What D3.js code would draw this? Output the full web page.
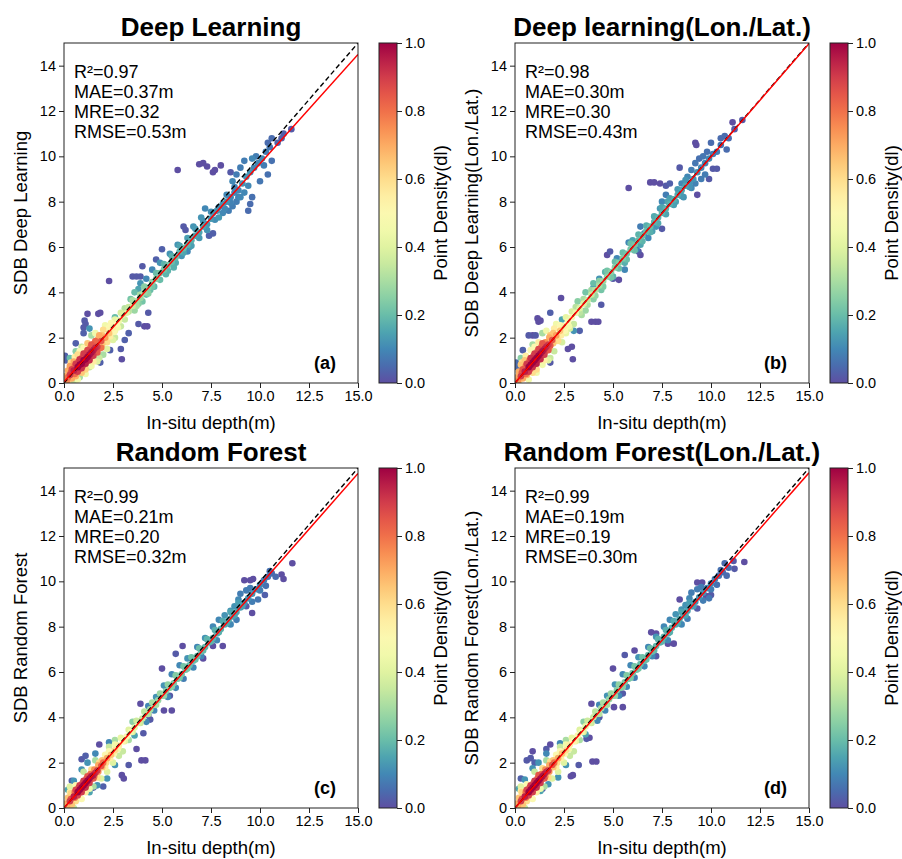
<!DOCTYPE html>
<html>
<head>
<meta charset="utf-8">
<script src="https://cdn.jsdelivr.net/npm/d3@7"></script>
<style>
    body { margin: 0; background: #fff; }
    svg text { font-family: "Liberation Sans", Arial, sans-serif; fill: #000; }
</style>
</head>
<body>
<div id="chart"></div>
<script>
// ---- data ----
const xTicks = [0, 2.5, 5, 7.5, 10, 12.5, 15];
const yTicks = [0, 2, 4, 6, 8, 10, 12, 14];
const cbarTicks = [0, 0.2, 0.4, 0.6, 0.8, 1.0];

const titles = ["Deep Learning", "Deep learning(Lon./Lat.)", "Random Forest", "Random Forest(Lon./Lat.)"];
const yLabels = ["SDB Deep Learning", "SDB Deep Learning(Lon./Lat.)", "SDB Random Forest", "SDB Random Forest(Lon./Lat.)"];
const xLabel = "In-situ depth(m)";
const cbarLabel = "Point Density(dl)";
const panelLetters = ["(a)", "(b)", "(c)", "(d)"];

const statsA = ["R²=0.97", "MAE=0.37m", "MRE=0.32", "RMSE=0.53m"];
const statsB = ["R²=0.98", "MAE=0.30m", "MRE=0.30", "RMSE=0.43m"];
const statsC = ["R²=0.99", "MAE=0.21m", "MRE=0.20", "RMSE=0.32m"];
const statsD = ["R²=0.99", "MAE=0.19m", "MRE=0.19", "RMSE=0.30m"];

// red fitted line: SDB = slope * depth + intercept
const fitSlopes = [0.963, 0.998, 0.984, 0.986];
const fitIntercepts = [0.05, 0.0, 0.0, 0.0];

// points: [in-situ depth, SDB, point density]
const pointsA = [
    [0.3,0.35,0.9],[0.5,0.55,0.95],[0.7,0.7,1.0],[0.9,0.85,1.0],[1.1,1.05,1.0],[1.3,1.25,0.98],[1.5,1.45,0.95],[1.7,1.6,0.9],[1.9,1.85,0.85],
    [0.6,0.85,0.9],[0.8,1.05,0.92],[1.0,1.3,0.9],[1.2,1.45,0.88],[1.4,1.7,0.85],[1.6,1.85,0.82],
    [0.7,0.5,0.9],[0.9,0.65,0.92],[1.1,0.85,0.95],[1.3,1.0,0.93],[1.5,1.2,0.9],[1.7,1.35,0.85],[1.9,1.55,0.8],
    [0.4,0.6,0.88],[0.2,0.25,0.8],[1.0,1.0,1.0],[1.2,1.15,1.0],[0.8,0.8,1.0],[1.4,1.35,0.97],[1.6,1.55,0.93],
    [0.1,0.3,0.7],[0.2,0.55,0.7],[0.3,0.75,0.72],[0.5,0.95,0.7],[0.4,0.2,0.7],[0.6,0.3,0.68],[0.9,0.45,0.65],[2.1,2.0,0.72],
    [2.3,2.2,0.65],[2.2,1.8,0.6],[2.0,2.35,0.6],[1.8,2.1,0.7],[1.2,1.75,0.65],[2.5,2.45,0.55],[2.4,2.65,0.5],[2.7,2.6,0.5],
    [1.1,0.6,0.62],[1.5,0.95,0.55],[0.15,0.1,0.75],[0.7,1.25,0.6],
    [2.8,2.75,0.45],[3.0,3.0,0.4],[3.2,3.1,0.4],[3.3,3.35,0.35],[3.5,3.4,0.35],[2.6,2.3,0.45],[2.9,2.5,0.35],[3.1,2.8,0.35],
    [2.2,1.5,0.4],[2.5,1.9,0.4],[2.6,2.0,0.35],[1.8,1.1,0.35],[2.0,1.25,0.3],[1.3,0.7,0.35],[0.5,0.1,0.35],[0.8,0.25,0.3],
    [3.7,3.6,0.3],[3.9,3.9,0.3],[4.1,4.0,0.28],[4.3,4.2,0.25],[4.5,4.45,0.25],[4.7,4.6,0.25],[4.9,4.85,0.22],[5.1,5.0,0.22],
    [5.3,5.2,0.22],[5.5,5.35,0.2],[5.7,5.55,0.2],[5.9,5.8,0.18],[6.1,5.95,0.2],[6.3,6.1,0.18],[6.5,6.3,0.17],[6.7,6.5,0.15],
    [6.9,6.65,0.15],[7.1,6.9,0.15],[7.3,7.0,0.13],[7.5,7.25,0.13],[3.6,3.2,0.28],[3.8,3.5,0.25],[4.0,3.6,0.22],[4.2,3.9,0.2],
    [4.4,4.1,0.2],[4.6,4.25,0.18],[5.2,4.8,0.18],[5.6,5.1,0.17],[3.4,3.7,0.22],[3.6,4.0,0.2],[3.8,4.15,0.15],
    [3.9,4.4,0.12],[4.2,4.6,0.1],[4.5,5.0,0.1],[4.9,5.3,0.12],[5.4,5.7,0.12],[5.8,6.1,0.12],[6.0,5.6,0.12],[6.3,5.8,0.1],
    [6.6,6.9,0.12],[6.4,6.0,0.12],[1.4,2.1,0.3],[0.9,1.6,0.35],[0.3,1.1,0.2],[0.6,1.4,0.25],[1.3,2.4,0.12],[2.6,2.9,0.2],
    [7.0,7.3,0.12],[7.2,7.7,0.1],[7.6,7.5,0.12],[7.8,7.6,0.12],[7.9,7.3,0.13],[8.1,7.9,0.12],[8.3,8.0,0.12],[8.5,8.2,0.1],
    [8.7,8.4,0.1],[8.9,8.5,0.1],[8.2,7.7,0.1],[8.4,7.6,0.08],[8.6,7.8,0.08],[8.8,8.0,0.08],[9.0,8.2,0.1],[9.2,8.4,0.1],
    [9.4,8.7,0.1],[9.1,8.8,0.12],[9.3,9.1,0.12],[9.5,9.3,0.12],[9.7,9.5,0.1],[9.9,9.7,0.1],[10.1,9.9,0.1],[9.6,9.9,0.1],
    [9.8,10.0,0.08],[9.2,9.8,0.08],[9.0,9.5,0.08],[8.8,9.2,0.08],[8.6,8.9,0.1],[10.3,10.2,0.08],[10.5,10.4,0.07],[10.2,9.6,0.08],
    [10.4,9.2,0.06],[10.0,8.9,0.07],[9.6,8.2,0.06],[9.5,7.9,0.05],[10.4,10.6,0.05],[10.6,10.8,0.05],[10.9,10.6,0.04],
    [11.2,11.0,0.03],[11.1,10.8,0.03],[11.6,11.2,0.02],[9.4,7.6,0.05],[10.6,9.8,0.06],
    [5.8,9.4,0.0],[6.9,9.65,0.0],[7.1,9.7,0.0],[7.3,9.55,0.0],[7.6,9.3,0.0],[7.7,9.4,0.0],[8.0,9.6,0.0],[8.5,9.3,0.02],
    [2.3,4.5,0.0],[3.5,4.7,0.02],[3.7,4.7,0.02],[3.9,4.7,0.02],[4.0,5.15,0.02],[4.7,5.45,0.03],[5.0,5.9,0.03],[6.1,6.9,0.02],
    [6.2,6.75,0.02],[7.4,6.5,0.03],[7.6,6.6,0.03],[1.05,2.75,0.02],[1.1,2.6,0.02],[1.0,2.45,0.02],[1.2,3.05,0.0],[1.75,3.05,0.0],
    [1.85,3.1,0.0],[1.0,2.2,0.03],[0.6,1.75,0.03],[4.3,3.1,0.02],[4.1,2.5,0.0],[4.25,2.5,0.0],[3.8,2.6,0.02],[2.95,1.05,0.0],
    [2.9,1.5,0.02],[2.35,1.45,0.03],[1.85,0.9,0.03],[3.3,2.2,0.03],[3.1,1.9,0.03],[0.05,1.2,0.03],[0.1,1.0,0.03]
];
const bandA = [
    [0.2,0.05,0.6],[0.35,0.45,0.85],[0.55,0.75,0.8],[0.75,0.95,0.85],[0.95,1.15,0.85],[1.15,1.35,0.8],[1.35,1.55,0.8],
    [1.55,1.75,0.75],[1.75,1.95,0.7],[1.95,2.1,0.65],[0.55,0.4,0.8],[0.75,0.6,0.85],[0.95,0.75,0.85],[1.15,0.95,0.85],
    [1.35,1.15,0.8],[1.55,1.35,0.75],[1.75,1.5,0.72],[1.95,1.7,0.65],[2.15,1.9,0.6],[2.35,2.05,0.55],[2.55,2.25,0.5],
    [2.75,2.45,0.45],[2.1,2.55,0.45],[2.3,2.45,0.5],[2.6,2.8,0.42],[2.9,3.1,0.38],[0.35,0.9,0.6],[0.55,1.15,0.55],
    [0.8,1.4,0.5],[1.0,1.55,0.5],[1.6,2.2,0.45],[1.1,0.4,0.45],[1.4,0.75,0.45],[1.7,0.95,0.4],[0.7,0.15,0.45],
    [3.1,3.3,0.32],[3.3,3.15,0.33],[3.5,3.65,0.3],[3.7,3.4,0.3],[3.9,3.75,0.28],[4.1,4.25,0.25],[4.3,3.95,0.25],
    [4.5,4.25,0.22],[4.7,4.85,0.2],[4.9,4.55,0.2],[5.1,5.25,0.18],[5.3,4.95,0.18],[5.5,5.6,0.17],[5.7,5.3,0.16],
    [5.9,6.05,0.15],[6.1,5.75,0.15],[6.3,6.4,0.14],[6.5,6.05,0.14],[6.7,6.8,0.13],[6.9,6.4,0.13],[7.1,7.15,0.12],
    [7.3,6.75,0.12],[7.5,7.55,0.11],[7.7,7.2,0.11],[7.9,7.75,0.1],[8.1,7.5,0.1],[8.3,8.3,0.1],[8.5,7.95,0.09],
    [8.7,8.65,0.09],[8.9,8.2,0.09]
];

const pointsB = [
    [0.3,0.3,0.9],[0.5,0.5,0.95],[0.7,0.7,1.0],[0.9,0.9,1.0],[1.1,1.1,1.0],[1.3,1.3,0.98],[1.5,1.5,0.95],[1.7,1.7,0.9],[1.9,1.9,0.85],
    [0.6,0.85,0.9],[0.8,1.1,0.92],[1.0,1.3,0.9],[1.2,1.5,0.88],[1.4,1.75,0.85],[0.7,0.5,0.9],[0.9,0.7,0.92],[1.1,0.85,0.95],
    [1.3,1.05,0.93],[1.5,1.25,0.9],[1.7,1.45,0.85],[1.0,1.0,1.0],[1.2,1.2,1.0],[0.8,0.8,1.0],[1.4,1.4,0.97],[1.6,1.6,0.93],
    [0.4,0.6,0.85],[1.8,1.65,0.85],
    [0.1,0.25,0.7],[0.2,0.5,0.7],[0.3,0.8,0.65],[0.5,1.0,0.65],[0.4,0.2,0.7],[0.6,0.35,0.68],[0.9,0.45,0.6],[2.1,2.1,0.72],
    [2.3,2.3,0.65],[2.2,1.85,0.6],[2.0,2.4,0.55],[1.8,2.1,0.65],[1.2,1.8,0.55],[2.5,2.5,0.55],[2.7,2.7,0.5],[1.1,0.6,0.6],
    [1.5,1.0,0.55],[0.15,0.1,0.75],[2.9,2.9,0.48],[3.1,3.1,0.45],
    [3.3,3.3,0.4],[3.5,3.5,0.4],[3.7,3.65,0.35],[3.9,3.9,0.35],[4.1,4.1,0.32],[4.3,4.3,0.3],[4.5,4.5,0.28],[4.7,4.7,0.26],
    [4.9,4.9,0.25],[5.1,5.1,0.25],[5.3,5.3,0.24],[5.5,5.5,0.24],[5.7,5.7,0.22],[5.9,5.9,0.22],[6.1,6.1,0.22],[6.3,6.3,0.2],
    [6.5,6.5,0.2],[6.7,6.7,0.2],[6.9,6.9,0.2],[7.1,7.1,0.18],[7.3,7.3,0.18],[7.5,7.5,0.18],[7.7,7.7,0.18],[7.9,7.9,0.17],
    [8.1,8.1,0.17],[8.3,8.3,0.16],[8.5,8.5,0.15],[8.7,8.7,0.15],[2.6,2.2,0.42],[2.8,2.4,0.38],[3.0,2.6,0.35],[2.4,1.8,0.38],
    [2.0,1.4,0.35],[1.8,1.1,0.35],[3.4,3.0,0.3],[3.6,3.2,0.28],[4.0,3.7,0.25],[4.4,4.1,0.22],[3.2,3.6,0.25],[3.6,4.0,0.22],
    [4.0,4.4,0.2],[4.6,4.9,0.18],[5.0,4.7,0.18],[5.6,5.3,0.17],[6.0,6.3,0.15],[6.4,6.1,0.15],[7.0,6.7,0.14],[7.4,7.7,0.13],
    [7.8,8.0,0.15],[8.2,8.0,0.14],[1.4,2.2,0.3],[0.9,1.7,0.3],[0.3,1.1,0.25],[2.4,2.8,0.15],[2.6,2.5,0.25],[3.0,2.3,0.12],
    [8.9,8.8,0.12],[9.1,9.0,0.12],[9.3,9.3,0.12],[9.5,9.5,0.1],[9.7,9.7,0.1],[9.9,9.9,0.1],[10.1,10.1,0.08],[10.3,10.2,0.08],
    [8.8,9.1,0.1],[9.0,9.4,0.08],[9.2,9.7,0.07],[9.4,9.9,0.06],[9.6,10.0,0.07],[9.8,10.2,0.06],[9.0,8.6,0.1],[9.2,8.8,0.09],
    [9.5,9.0,0.08],[9.7,9.2,0.08],[8.6,8.2,0.12],[8.5,8.8,0.1],[10.5,10.8,0.05],[10.7,10.9,0.05],[10.9,10.8,0.05],[10.5,10.5,0.06],
    [10.0,10.6,0.05],[10.8,10.3,0.05],[4.3,4.6,0.12],[4.0,4.2,0.12],[5.2,5.5,0.1],[5.8,6.2,0.1],[6.4,6.9,0.08],[6.6,6.6,0.1],
    [7.5,8.0,0.1],[7.7,8.3,0.08],[5.6,5.0,0.1],[6.2,5.9,0.1],[6.8,6.4,0.1],[7.2,6.9,0.12],
    [5.8,8.6,0.0],[6.9,8.85,0.0],[7.1,8.85,0.0],[7.4,8.8,0.0],[7.7,8.7,0.02],[7.9,8.8,0.03],[8.4,9.5,0.02],[9.2,10.6,0.0],
    [9.25,10.5,0.0],[9.3,8.3,0.0],[9.9,9.0,0.02],[10.1,9.45,0.02],[10.3,9.45,0.02],[11.1,11.5,0.0],[11.2,11.2,0.02],[11.6,11.6,0.02],
    [4.7,5.65,0.0],[4.85,5.8,0.02],[6.4,5.65,0.0],[6.3,5.8,0.02],[5.0,4.6,0.02],[5.3,4.55,0.0],[7.5,6.8,0.02],[2.35,3.75,0.0],
    [1.15,2.85,0.0],[1.2,2.7,0.0],[1.3,2.75,0.0],[1.8,3.1,0.03],[0.7,2.1,0.02],[0.9,2.1,0.0],[1.05,2.1,0.02],[0.4,1.45,0.03],
    [3.9,2.7,0.0],[4.1,2.7,0.0],[4.25,2.7,0.0],[4.4,3.45,0.02],[2.95,1.05,0.0],[2.7,1.5,0.0],[2.9,1.6,0.0],[1.8,0.9,0.02],
    [3.3,2.3,0.03],[0.05,0.9,0.05],[0.1,0.7,0.05]
];
const bandB = [
    [0.2,0.05,0.6],[0.35,0.45,0.85],[0.55,0.75,0.8],[0.75,1.0,0.85],[0.95,1.2,0.85],[1.15,1.4,0.8],[1.35,1.6,0.8],
    [1.55,1.8,0.75],[1.75,2.0,0.7],[1.95,2.2,0.65],[0.55,0.4,0.8],[0.75,0.6,0.85],[0.95,0.8,0.85],[1.15,1.0,0.85],
    [1.35,1.2,0.8],[1.55,1.4,0.75],[1.75,1.55,0.72],[1.95,1.75,0.65],[2.15,1.95,0.6],[2.35,2.1,0.55],[2.55,2.3,0.5],
    [2.75,2.5,0.45],[2.1,2.6,0.45],[2.3,2.55,0.5],[2.6,2.9,0.42],[2.9,3.15,0.38],[0.35,0.9,0.6],[0.55,1.2,0.55],
    [0.8,1.45,0.5],[1.0,1.6,0.5],[1.6,2.3,0.45],[1.1,0.45,0.45],[1.4,0.8,0.45],[1.7,1.0,0.4],[0.7,0.15,0.45],
    [3.1,3.35,0.32],[3.3,3.1,0.33],[3.5,3.7,0.3],[3.7,3.45,0.3],[3.9,4.1,0.28],[4.1,3.85,0.27],[4.3,4.5,0.25],
    [4.5,4.25,0.24],[4.7,4.95,0.22],[4.9,4.65,0.22],[5.1,5.35,0.2],[5.3,5.05,0.2],[5.5,5.75,0.2],[5.7,5.45,0.2],
    [5.9,6.15,0.2],[6.1,5.85,0.2],[6.3,6.55,0.18],[6.5,6.25,0.18],[6.7,6.95,0.17],[6.9,6.65,0.17],[7.1,7.35,0.16],
    [7.3,7.05,0.16],[7.5,7.75,0.15],[7.7,7.45,0.15],[7.9,8.15,0.14],[8.1,7.85,0.14],[8.3,8.55,0.13],[8.5,8.25,0.13],
    [8.7,8.95,0.12],[8.9,8.65,0.12]
];

const pointsC = [
    [0.3,0.3,0.9],[0.5,0.5,0.95],[0.7,0.7,1.0],[0.9,0.9,1.0],[1.1,1.1,1.0],[1.3,1.3,0.98],[1.5,1.45,0.95],[1.7,1.65,0.9],
    [1.9,1.85,0.85],[0.6,0.8,0.88],[0.8,1.0,0.9],[1.0,1.2,0.9],[1.2,1.4,0.85],[0.7,0.55,0.88],[0.9,0.7,0.9],[1.1,0.9,0.92],
    [1.3,1.1,0.9],[1.5,1.3,0.85],[1.0,1.0,1.0],[1.2,1.2,1.0],[0.8,0.8,1.0],[1.4,1.4,0.97],[1.6,1.55,0.92],[2.0,2.0,0.8],
    [0.1,0.2,0.7],[0.2,0.45,0.65],[0.35,0.65,0.62],[0.4,0.15,0.65],[0.6,0.3,0.6],[2.2,2.2,0.7],[2.4,2.35,0.65],[2.6,2.55,0.6],
    [2.8,2.75,0.55],[3.0,2.95,0.52],[3.2,3.15,0.5],[2.1,1.8,0.55],[1.8,2.0,0.6],[1.4,1.7,0.6],[1.7,1.35,0.6],[1.1,0.7,0.55],
    [3.4,3.35,0.45],[3.6,3.55,0.42],[0.15,0.05,0.7],
    [3.8,3.75,0.38],[4.0,3.95,0.35],[4.2,4.15,0.32],[4.4,4.35,0.3],[4.6,4.55,0.28],[4.8,4.75,0.27],[5.0,4.95,0.25],[5.2,5.15,0.25],
    [5.4,5.3,0.24],[5.6,5.5,0.23],[5.8,5.7,0.22],[6.0,5.9,0.22],[6.2,6.1,0.21],[6.4,6.3,0.2],[6.6,6.5,0.2],[6.8,6.7,0.2],
    [7.0,6.9,0.2],[7.2,7.1,0.19],[7.4,7.3,0.18],[7.6,7.5,0.18],[7.8,7.7,0.17],[8.0,7.9,0.17],[8.2,8.1,0.16],[8.4,8.3,0.16],
    [8.6,8.45,0.15],[8.8,8.65,0.15],[9.0,8.85,0.14],[2.5,2.0,0.4],[2.8,2.3,0.35],[3.0,2.5,0.35],[2.2,1.6,0.4],[1.9,1.3,0.4],
    [2.3,2.7,0.35],[2.6,3.0,0.3],[3.3,3.0,0.3],[3.5,3.8,0.25],[1.6,2.1,0.3],[1.0,1.6,0.35],[1.5,0.95,0.3],[0.5,0.0,0.35],
    [0.3,0.95,0.4],
    [9.2,9.05,0.12],[9.4,9.25,0.12],[9.6,9.45,0.12],[9.8,9.65,0.1],[10.0,9.85,0.1],[10.2,10.05,0.08],[8.7,8.9,0.12],[8.9,9.2,0.1],
    [9.0,9.45,0.08],[9.3,9.6,0.08],[9.5,9.7,0.08],[8.5,8.7,0.12],[8.2,8.5,0.12],[7.9,8.3,0.1],[7.6,8.0,0.1],[7.2,7.5,0.12],
    [6.8,7.1,0.1],[6.3,6.6,0.12],[5.9,6.3,0.1],[5.5,5.9,0.1],[5.1,5.4,0.12],[4.7,4.9,0.12],[4.3,4.5,0.1],[9.6,9.1,0.08],
    [9.9,9.2,0.07],[10.0,9.6,0.08],[10.4,10.2,0.06],[10.6,10.35,0.05],[10.8,10.2,0.05],[10.5,10.45,0.06],[10.3,9.8,0.06],
    [8.5,8.1,0.1],[8.8,8.3,0.08],[7.8,7.4,0.1],[7.0,6.7,0.1],[6.6,6.2,0.1],[6.1,5.7,0.08],[5.7,5.3,0.1],[5.3,4.9,0.1],
    [4.6,4.3,0.1],[4.2,3.8,0.1],[3.6,3.2,0.15],[1.2,2.0,0.12],[0.9,1.7,0.12],[0.5,1.2,0.12],[0.2,0.8,0.15],[1.6,2.4,0.1],
    [2.3,2.9,0.1],[2.6,1.9,0.12],[2.2,1.3,0.12],[1.7,1.0,0.12],[1.3,0.7,0.15],
    [11.65,10.8,0.0],[11.1,10.3,0.0],[11.2,10.1,0.0],[9.2,10.05,0.0],[9.5,10.05,0.0],[9.65,10.1,0.0],[9.6,8.6,0.0],[9.3,8.9,0.02],
    [10.25,9.4,0.03],[7.6,7.15,0.0],[8.1,7.15,0.0],[7.1,6.6,0.0],[6.05,7.15,0.0],[5.7,6.8,0.02],[5.0,6.15,0.0],[5.4,4.95,0.02],
    [5.1,4.3,0.0],[5.5,4.3,0.0],[3.9,4.6,0.0],[4.3,4.1,0.02],[4.4,3.9,0.02],[4.05,3.3,0.02],[3.7,2.6,0.0],[3.95,2.1,0.0],
    [4.15,2.1,0.0],[3.3,1.9,0.02],[2.95,1.45,0.0],[3.05,1.3,0.0],[1.5,0.9,0.03],[1.8,2.8,0.0],[0.9,2.15,0.02],[1.1,2.3,0.03],
    [0.4,1.2,0.03],[2.0,0.95,0.03]
];
const bandC = [
    [0.2,0.05,0.6],[0.35,0.4,0.85],[0.55,0.7,0.8],[0.75,0.9,0.85],[0.95,1.1,0.85],[1.15,1.3,0.8],[1.35,1.5,0.8],
    [1.55,1.7,0.75],[1.75,1.9,0.7],[1.95,2.1,0.65],[0.55,0.45,0.8],[0.75,0.65,0.85],[0.95,0.85,0.85],[1.15,1.05,0.85],
    [1.35,1.25,0.8],[1.55,1.4,0.75],[1.75,1.6,0.72],[1.95,1.8,0.65],[2.15,2.0,0.6],[2.35,2.2,0.55],[2.55,2.4,0.5],
    [2.75,2.6,0.45],[2.1,2.35,0.5],[2.3,2.5,0.5],[2.6,2.8,0.45],[2.9,3.1,0.42],[3.1,2.95,0.42],[3.3,3.45,0.4],
    [3.5,3.35,0.4],[3.7,3.85,0.36],[3.9,3.75,0.35],[4.1,4.25,0.33],[4.3,4.15,0.32],[4.5,4.65,0.3],[4.7,4.55,0.3],
    [4.9,5.05,0.28],[5.1,4.95,0.27],[5.3,5.45,0.26],[5.5,5.35,0.25],[5.7,5.85,0.24],[5.9,5.75,0.23],[6.1,6.25,0.22],
    [6.3,6.15,0.22],[6.5,6.65,0.21],[6.7,6.55,0.2],[6.9,7.05,0.2],[7.1,6.95,0.19],[7.3,7.45,0.18],[7.5,7.35,0.18],
    [7.7,7.85,0.17],[7.9,7.75,0.17],[8.1,8.25,0.16],[8.3,8.15,0.16],[8.5,8.65,0.15],[8.7,8.5,0.15],[8.9,9.05,0.14],
    [9.1,8.9,0.14],[0.3,0.7,0.55],[0.6,1.0,0.5],[0.9,0.4,0.5],[1.3,0.85,0.45]
];

const pointsD = [
    [0.3,0.3,0.9],[0.5,0.5,0.95],[0.7,0.7,1.0],[0.9,0.9,1.0],[1.1,1.1,1.0],[1.3,1.3,0.98],[1.5,1.5,0.95],[1.7,1.65,0.9],
    [1.9,1.9,0.85],[0.6,0.8,0.88],[0.8,1.0,0.9],[1.0,1.2,0.9],[1.2,1.45,0.85],[0.7,0.55,0.88],[0.9,0.7,0.9],[1.1,0.9,0.92],
    [1.3,1.1,0.9],[1.5,1.3,0.85],[1.0,1.0,1.0],[1.2,1.2,1.0],[0.8,0.8,1.0],[1.4,1.4,0.97],[1.6,1.6,0.92],[2.0,2.0,0.8],
    [0.1,0.2,0.7],[0.2,0.45,0.65],[0.35,0.7,0.62],[0.4,0.15,0.65],[0.6,0.3,0.6],[2.2,2.2,0.7],[2.4,2.4,0.65],[2.6,2.55,0.6],
    [2.8,2.8,0.55],[3.0,2.95,0.52],[3.2,3.2,0.5],[2.1,1.8,0.55],[1.8,2.05,0.6],[1.4,1.75,0.6],[1.7,1.35,0.6],[1.1,0.7,0.55],
    [3.4,3.35,0.45],[3.6,3.6,0.42],[0.15,0.05,0.7],
    [3.8,3.75,0.38],[4.0,4.0,0.35],[4.2,4.15,0.32],[4.4,4.4,0.3],[4.6,4.55,0.28],[4.8,4.8,0.27],[5.0,4.95,0.25],[5.2,5.2,0.25],
    [5.4,5.3,0.24],[5.6,5.55,0.23],[5.8,5.7,0.22],[6.0,5.95,0.22],[6.2,6.1,0.21],[6.4,6.35,0.2],[6.6,6.5,0.2],[6.8,6.75,0.2],
    [7.0,6.9,0.2],[7.2,7.15,0.19],[7.4,7.3,0.18],[7.6,7.55,0.18],[7.8,7.7,0.17],[8.0,7.95,0.17],[8.2,8.1,0.16],[8.4,8.35,0.16],
    [8.6,8.5,0.15],[8.8,8.7,0.15],[9.0,8.9,0.14],[2.5,2.0,0.4],[2.8,2.3,0.35],[3.0,2.5,0.35],[2.2,1.6,0.4],[1.9,1.3,0.4],
    [2.3,2.7,0.35],[2.6,3.0,0.3],[3.3,3.0,0.3],[3.5,3.8,0.25],[1.6,2.1,0.3],[1.0,1.6,0.35],[1.5,0.95,0.3],[0.5,0.0,0.35],
    [0.3,0.95,0.4],
    [9.2,9.1,0.12],[9.4,9.3,0.12],[9.6,9.5,0.12],[9.8,9.7,0.1],[10.0,9.9,0.1],[10.2,10.1,0.08],[8.7,8.95,0.12],[8.9,9.25,0.1],
    [9.0,9.5,0.08],[9.3,9.65,0.08],[9.5,9.75,0.08],[8.5,8.75,0.12],[8.2,8.55,0.12],[7.9,8.3,0.1],[7.6,8.0,0.1],[7.2,7.55,0.12],
    [6.8,7.1,0.1],[6.3,6.65,0.12],[5.9,6.3,0.1],[5.5,5.9,0.1],[5.1,5.45,0.12],[4.7,4.95,0.12],[4.3,4.55,0.1],[9.6,9.15,0.08],
    [9.9,9.25,0.07],[10.0,9.65,0.08],[10.4,10.25,0.06],[10.6,10.4,0.05],[10.8,10.25,0.05],[10.5,10.5,0.06],[10.3,9.85,0.06],
    [8.5,8.1,0.1],[8.8,8.35,0.08],[7.8,7.4,0.1],[7.0,6.7,0.1],[6.6,6.25,0.1],[6.1,5.75,0.08],[5.7,5.35,0.1],[5.3,4.95,0.1],
    [4.6,4.3,0.1],[4.2,3.85,0.1],[3.6,3.25,0.15],[1.2,2.0,0.12],[0.9,1.75,0.12],[0.5,1.25,0.12],[0.2,0.85,0.15],[1.6,2.4,0.1],
    [2.3,2.85,0.1],[2.6,1.9,0.12],[2.2,1.35,0.12],[1.7,1.05,0.12],[1.3,0.75,0.15],[10.9,10.6,0.05],[10.7,10.8,0.05],
    [11.7,10.85,0.0],[11.15,10.9,0.02],[11.2,10.55,0.02],[9.3,9.95,0.0],[9.55,9.95,0.0],[9.75,9.35,0.0],[10.0,9.4,0.02],
    [8.4,9.2,0.0],[9.3,8.8,0.02],[7.8,7.25,0.0],[8.1,7.25,0.0],[6.95,7.75,0.0],[7.2,7.7,0.0],[7.2,6.7,0.02],[6.1,6.95,0.0],
    [5.6,6.75,0.02],[5.0,6.15,0.0],[5.35,5.0,0.03],[5.5,5.05,0.02],[5.05,4.45,0.0],[5.5,4.45,0.0],[3.9,4.6,0.0],[4.3,4.0,0.02],
    [3.65,3.05,0.02],[3.8,3.1,0.0],[3.95,2.05,0.0],[4.15,2.05,0.0],[3.25,1.9,0.02],[2.85,1.4,0.0],[2.95,1.45,0.0],
    [1.4,0.85,0.03],[1.8,2.8,0.0],[0.9,2.5,0.0],[0.6,2.1,0.02],[0.8,2.2,0.02],[1.0,2.0,0.03],[1.6,2.6,0.02],[0.3,1.3,0.03]
];
const bandD = [
    [0.2,0.05,0.6],[0.35,0.4,0.85],[0.55,0.7,0.8],[0.75,0.9,0.85],[0.95,1.1,0.85],[1.15,1.3,0.8],[1.35,1.5,0.8],
    [1.55,1.7,0.75],[1.75,1.9,0.7],[1.95,2.1,0.65],[0.55,0.45,0.8],[0.75,0.65,0.85],[0.95,0.85,0.85],[1.15,1.05,0.85],
    [1.35,1.25,0.8],[1.55,1.4,0.75],[1.75,1.6,0.72],[1.95,1.8,0.65],[2.15,2.0,0.6],[2.35,2.2,0.55],[2.55,2.4,0.5],
    [2.75,2.6,0.45],[2.1,2.35,0.5],[2.3,2.5,0.5],[2.6,2.8,0.45],[2.9,3.1,0.42],[3.1,2.95,0.42],[3.3,3.45,0.4],
    [3.5,3.35,0.4],[3.7,3.85,0.36],[3.9,3.75,0.35],[4.1,4.25,0.33],[4.3,4.15,0.32],[4.5,4.65,0.3],[4.7,4.55,0.3],
    [4.9,5.05,0.28],[5.1,4.95,0.27],[5.3,5.45,0.26],[5.5,5.35,0.25],[5.7,5.85,0.24],[5.9,5.75,0.23],[6.1,6.25,0.22],
    [6.3,6.15,0.22],[6.5,6.65,0.21],[6.7,6.55,0.2],[6.9,7.05,0.2],[7.1,6.95,0.19],[7.3,7.45,0.18],[7.5,7.35,0.18],
    [7.7,7.85,0.17],[7.9,7.75,0.17],[8.1,8.25,0.16],[8.3,8.15,0.16],[8.5,8.65,0.15],[8.7,8.5,0.15],[8.9,9.05,0.14],
    [9.1,8.9,0.14],[0.3,0.75,0.55],[0.6,1.05,0.5],[0.9,0.4,0.5],[1.3,0.85,0.45]
];

const allPoints = [pointsA.concat(bandA), pointsB.concat(bandB), pointsC.concat(bandC), pointsD.concat(bandD)];
const allStats = [statsA, statsB, statsC, statsD];

// ---- chart ----
const colorOf = d => d3.interpolateSpectral(1 - d);   // Spectral_r

class DensityScatter {
    constructor(svg, index, left, top) {
        let vis = this;
        vis.svg = svg;
        vis.index = index;
        vis.left = left;
        vis.top = top;
        vis.width = 294;
        vis.height = 340;
        // low density first so the dense core is drawn on top
        vis.data = allPoints[index].slice().sort((a, b) => a[2] - b[2]);
        vis.initVis();
    }

    initVis() {
        let vis = this;

        vis.g = vis.svg.append("g")
            .attr("transform", `translate(${vis.left},${vis.top})`);

        vis.x = d3.scaleLinear().domain([0, 15]).range([0, vis.width]);
        vis.y = d3.scaleLinear().domain([0, 15]).range([vis.height, 0]);

        vis.g.append("clipPath")
            .attr("id", `clip${vis.index}`)
            .append("rect")
            .attr("width", vis.width)
            .attr("height", vis.height);

        vis.updateVis();
    }

    updateVis() {
        let vis = this;

        const plot = vis.g.append("g").attr("clip-path", `url(#clip${vis.index})`);

        plot.selectAll("circle")
            .data(vis.data)
            .enter()
            .append("circle")
            .attr("cx", d => vis.x(d[0]))
            .attr("cy", d => vis.y(d[1]))
            .attr("r", 3.3)
            .attr("fill", d => colorOf(d[2]));

        // 1:1 line (dashed) and fitted line (red)
        plot.append("line")
            .attr("x1", vis.x(0)).attr("y1", vis.y(0))
            .attr("x2", vis.x(15)).attr("y2", vis.y(15))
            .attr("stroke", "#000")
            .attr("stroke-width", 1.4)
            .attr("stroke-dasharray", "5,3");

        const m = fitSlopes[vis.index], b = fitIntercepts[vis.index];
        plot.append("line")
            .attr("x1", vis.x(0)).attr("y1", vis.y(b))
            .attr("x2", vis.x(15)).attr("y2", vis.y(m * 15 + b))
            .attr("stroke", "#f00")
            .attr("stroke-width", 1.5);

        // axes
        const xAxis = d3.axisBottom(vis.x).tickValues(xTicks).tickFormat(d3.format(".1f"))
            .tickSize(5).tickSizeOuter(0).tickPadding(3);
        const yAxis = d3.axisLeft(vis.y).tickValues(yTicks).tickFormat(d3.format("d"))
            .tickSize(5).tickSizeOuter(0).tickPadding(3);

        const xg = vis.g.append("g").attr("transform", `translate(0,${vis.height})`).call(xAxis);
        const yg = vis.g.append("g").call(yAxis);
        [xg, yg].forEach(a => {
            a.select(".domain").remove();
            a.selectAll("line").attr("stroke", "#222");
            a.selectAll("text").style("font-size", "14.5px")
                .style("font-family", "'Liberation Sans', Arial, sans-serif");
        });

        vis.g.append("rect")
            .attr("width", vis.width)
            .attr("height", vis.height)
            .attr("fill", "none")
            .attr("stroke", "#222")
            .attr("stroke-width", 1);

        // labels
        vis.g.append("text")
            .attr("x", vis.width / 2)
            .attr("y", -7)
            .attr("text-anchor", "middle")
            .style("font-size", "26px")
            .style("font-weight", "bold")
            .text(titles[vis.index]);

        vis.g.append("text")
            .attr("x", vis.width / 2)
            .attr("y", vis.height + 46)
            .attr("text-anchor", "middle")
            .style("font-size", "18.5px")
            .text(xLabel);

        vis.g.append("text")
            .attr("transform", `translate(-37,${vis.height / 2}) rotate(-90)`)
            .attr("text-anchor", "middle")
            .style("font-size", "18.5px")
            .text(yLabels[vis.index]);

        vis.g.selectAll(".stat")
            .data(allStats[vis.index])
            .enter()
            .append("text")
            .attr("class", "stat")
            .attr("x", 10)
            .attr("y", (d, i) => 35 + i * 20)
            .style("font-size", "18px")
            .text(d => d);

        vis.g.append("text")
            .attr("x", vis.width - 22)
            .attr("y", vis.height - 14)
            .attr("text-anchor", "end")
            .style("font-size", "18px")
            .style("font-weight", "bold")
            .text(panelLetters[vis.index]);

        vis.drawColorbar();
    }

    drawColorbar() {
        let vis = this;
        const cx = vis.width + 21, cw = 18;

        const grad = vis.g.append("linearGradient")
            .attr("id", `grad${vis.index}`)
            .attr("x1", 0).attr("y1", 1).attr("x2", 0).attr("y2", 0);
        grad.selectAll("stop")
            .data(d3.range(0, 1.0001, 0.05))
            .enter()
            .append("stop")
            .attr("offset", d => d)
            .attr("stop-color", d => colorOf(d));

        const cb = vis.g.append("g").attr("transform", `translate(${cx},0)`);
        cb.append("rect")
            .attr("width", cw)
            .attr("height", vis.height)
            .attr("fill", `url(#grad${vis.index})`)
            .attr("stroke", "#222")
            .attr("stroke-width", 1);

        const c = d3.scaleLinear().domain([0, 1]).range([vis.height, 0]);
        const cAxis = d3.axisRight(c).tickValues(cbarTicks).tickFormat(d3.format(".1f"))
            .tickSize(5).tickSizeOuter(0).tickPadding(3);
        const cg = cb.append("g").attr("transform", `translate(${cw},0)`).call(cAxis);
        cg.select(".domain").remove();
        cg.selectAll("line").attr("stroke", "#222");
        cg.selectAll("text").style("font-size", "14.5px")
            .style("font-family", "'Liberation Sans', Arial, sans-serif");

        cb.append("text")
            .attr("transform", `translate(${cw + 50},${vis.height / 2}) rotate(-90)`)
            .attr("text-anchor", "middle")
            .style("font-size", "18.5px")
            .text(cbarLabel);
    }
}

const svg = d3.select("#chart").append("svg")
    .attr("width", 902)
    .attr("height", 859);

const lefts = [64, 515, 64, 515];
const tops = [43, 43, 468, 468];
lefts.forEach((l, i) => new DensityScatter(svg, i, l, tops[i]));
</script>
</body>
</html>
